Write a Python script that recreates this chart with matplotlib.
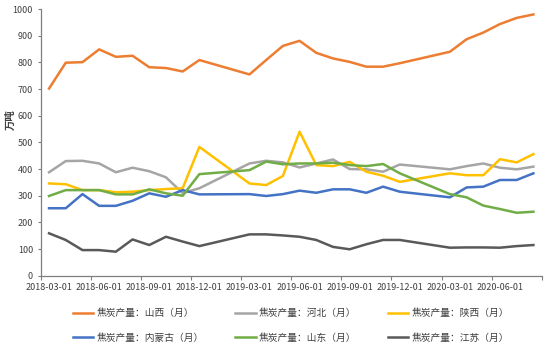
import numpy as np
import matplotlib
matplotlib.use("Agg")
import matplotlib.pyplot as plt

plt.rcParams['font.family'] = ['Noto Sans CJK SC', 'DejaVu Sans']

nan = np.nan
months = ['2018-03-01', '2018-04-01', '2018-05-01', '2018-06-01', '2018-07-01', '2018-08-01',
          '2018-09-01', '2018-10-01', '2018-11-01', '2018-12-01', '2019-01-01', '2019-02-01',
          '2019-03-01', '2019-04-01', '2019-05-01', '2019-06-01', '2019-07-01', '2019-08-01',
          '2019-09-01', '2019-10-01', '2019-11-01', '2019-12-01', '2020-01-01', '2020-02-01',
          '2020-03-01', '2020-04-01', '2020-05-01', '2020-06-01', '2020-07-01', '2020-08-01']

shanxi = [702, 799, 801, 849, 821, 825, 782, 779, 766, 809, nan, nan, 755, 809, 862,
          881, 836, 815, 802, 784, 784, 797, nan, nan, 840, 887, 912, 944, 967, 980]
hebei = [388, 430, 431, 421, 388, 405, 392, 369, 310, 328, nan, nan, 421, 431, 425,
         406, 421, 436, 400, 399, 390, 417, nan, nan, 399, 411, 421, 405, 399, 409]
shaanxi = [346, 343, 321, 321, 313, 315, 321, 325, 328, 483, nan, nan, 346, 340, 374,
           540, 415, 411, 427, 390, 375, 352, nan, nan, 384, 377, 377, 437, 425, 456]
neimenggu = [253, 253, 306, 262, 262, 281, 309, 296, 321, 305, nan, nan, 306, 299, 306,
             319, 311, 324, 324, 311, 334, 315, nan, nan, 294, 331, 334, 359, 359, 384]
shandong = [299, 321, 321, 321, 305, 305, 324, 309, 300, 381, nan, nan, 396, 428, 418,
            421, 421, 424, 415, 411, 419, 384, nan, nan, 306, 294, 263, 250, 236, 240]
jiangsu = [159, 134, 96, 96, 90, 136, 115, 146, 128, 111, nan, nan, 155, 155, 151,
           146, 134, 108, 99, 118, 134, 134, nan, nan, 105, 106, 106, 105, 111, 115]

series = [
    ('焦炭产量：山西（月）', shanxi, '#ED7D31'),
    ('焦炭产量：河北（月）', hebei, '#A5A5A5'),
    ('焦炭产量：陕西（月）', shaanxi, '#FFC000'),
    ('焦炭产量：内蒙古（月）', neimenggu, '#4472C4'),
    ('焦炭产量：山东（月）', shandong, '#70AD47'),
    ('焦炭产量：江苏（月）', jiangsu, '#595959'),
]

fig = plt.figure(figsize=(5.5, 3.48), dpi=100)
ax = fig.add_axes([0.074, 0.2078, 0.911, 0.766])

x = np.arange(len(months))
handles = {}
for name, vals, color in series:
    v = np.array(vals, dtype=float)
    m = ~np.isnan(v)
    ln, = ax.plot(x[m], v[m], color=color, lw=1.8, label=name, solid_joinstyle='round')
    handles[name] = ln

ax.set_xlim(-0.5, len(months) - 0.5)
ax.set_ylim(0, 1000)
ax.set_yticks(np.arange(0, 1001, 100))

ax.set_xticks(np.arange(-0.5, len(months), 3))
ax.set_xticklabels([])
ax.set_xticks(np.arange(0, len(months), 3), minor=True)
ax.set_xticklabels([months[i] for i in range(0, len(months), 3)], minor=True)
ax.tick_params(axis='x', which='major', length=3, width=0.8, color='#7F7F7F', direction='out')
ax.tick_params(axis='x', which='minor', length=0, pad=5, labelsize=6.5, labelcolor='#404040')
ax.tick_params(axis='y', length=2.5, width=0.8, color='#7F7F7F', labelsize=6.5,
               labelcolor='#404040', pad=3)

for s in ['top', 'right']:
    ax.spines[s].set_visible(False)
for s in ['left', 'bottom']:
    ax.spines[s].set_color('#7F7F7F')
    ax.spines[s].set_linewidth(0.9)

fig.text(11 / 550, 1 - 120 / 348, '万吨', rotation=90, ha='center', va='center',
         fontsize=7.5, fontweight='bold', color='#404040')

order = ['焦炭产量：山西（月）', '焦炭产量：内蒙古（月）', '焦炭产量：河北（月）',
         '焦炭产量：山东（月）', '焦炭产量：陕西（月）', '焦炭产量：江苏（月）']
leg = fig.legend([handles[n] for n in order], order, ncol=3, loc='center',
                 bbox_to_anchor=(0.529, 0.065), frameon=False, fontsize=7,
                 handlelength=2.1, handletextpad=0.35, columnspacing=3.2,
                 labelspacing=1.5)
for t in leg.get_texts():
    t.set_color('#404040')

fig.savefig('out.png', dpi=100)
